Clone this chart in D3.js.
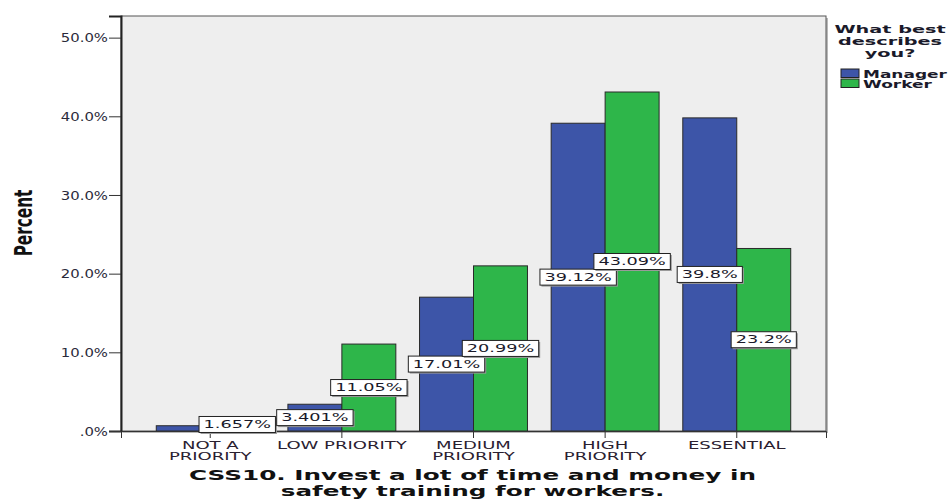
<!DOCTYPE html>
<html>
<head>
<meta charset="utf-8">
<script src="https://cdn.jsdelivr.net/npm/d3@7"></script>
<style>
  html, body { margin: 0; padding: 0; background: #fff; }
  svg { display: block; }
</style>
</head>
<body>
<svg id="chart" width="948" height="500"></svg>
<script>
// ---- data ----
const categories = ["NOT A PRIORITY", "LOW PRIORITY", "MEDIUM PRIORITY", "HIGH PRIORITY", "ESSENTIAL"];
const categoryLines = [["NOT A", "PRIORITY"], ["LOW PRIORITY"], ["MEDIUM", "PRIORITY"], ["HIGH", "PRIORITY"], ["ESSENTIAL"]];
const seriesNames = ["Manager", "Worker"];
const managerValues = [0.669, 3.401, 17.01, 39.12, 39.8];
const workerValues = [1.657, 11.05, 20.99, 43.09, 23.2];
const yTickValues = [0, 10, 20, 30, 40, 50];
const yTickLabels = [".0%", "10.0%", "20.0%", "30.0%", "40.0%", "50.0%"];
const legendTitleLines = ["What best", "describes", "you?"];
const titleLines = ["CSS10. Invest a lot of time and money in", "safety training for workers."];
const yAxisTitle = "Percent";
const colors = ["#3d55a8", "#2eb64a"];

// ---- layout ----
const svg = d3.select("#chart");
const plot = { left: 121, right: 826, top: 16, bottom: 431 };
const SX = 1.7;

const x0 = d3.scaleBand().domain(categories)
  .range([plot.left, plot.right]).paddingInner(0.18).paddingOuter(0.268);
const x1 = d3.scaleBand().domain(seriesNames).range([0, x0.bandwidth()]).padding(0);
const y = d3.scaleLinear().domain([0, 52.75]).range([plot.bottom, plot.top]);

// plot background with shadow
svg.append("rect").attr("x", plot.left + 2).attr("y", plot.top + 2)
  .attr("width", plot.right - plot.left).attr("height", plot.bottom - plot.top)
  .attr("fill", "#b8b8b8");
svg.append("rect").attr("x", plot.left).attr("y", plot.top)
  .attr("width", plot.right - plot.left).attr("height", plot.bottom - plot.top)
  .attr("fill", "#eeeeee").attr("stroke", "#555").attr("stroke-width", 1);

const rows = categories.map((c, i) => ({ cat: c, vals: [managerValues[i], workerValues[i]] }));

// bars
const groups = svg.append("g").selectAll("g").data(rows).join("g")
  .attr("transform", d => `translate(${x0(d.cat)},0)`);
groups.selectAll("rect").data(d => d.vals.map((v, k) => ({ v, s: seriesNames[k], k })))
  .join("rect")
  .attr("x", d => x1(d.s))
  .attr("y", d => y(d.v))
  .attr("width", x1.bandwidth())
  .attr("height", d => y(0) - y(d.v))
  .attr("fill", d => colors[d.k])
  .attr("stroke", "#2a2a2a").attr("stroke-width", 1);

// axes
const yAxis = d3.axisLeft(y).tickValues(yTickValues)
  .tickFormat((d, i) => yTickLabels[i]).tickSize(12).tickPadding(1);
const gy = svg.append("g").attr("transform", `translate(${plot.left},0)`).call(yAxis);
gy.select(".domain").attr("stroke", "#222").attr("stroke-width", 2);
gy.selectAll(".tick line").attr("stroke", "#333").attr("stroke-width", 1);
gy.selectAll(".tick text")
  .attr("font-family", "DejaVu Sans, sans-serif").attr("font-size", 12)
  .attr("fill", "#2a2a3a").attr("x", null).attr("dy", "0.35em")
  .attr("text-anchor", "end")
  .attr("transform", "translate(-13,0) scale(1.24,1)");

const xAxis = d3.axisBottom(x0).tickSize(7).tickFormat("");
const gx = svg.append("g").attr("transform", `translate(0,${plot.bottom})`).call(xAxis);
gx.select(".domain").attr("stroke", "#333").attr("stroke-width", 1);
gx.selectAll(".tick line").attr("stroke", "#333");

// category labels
svg.append("g").selectAll("text").data(categories).join("text")
  .attr("font-family", "DejaVu Sans, sans-serif").attr("font-size", 10.6)
  .attr("fill", "#2a2030").attr("text-anchor", "middle")
  .attr("transform", d => `translate(${x0(d) + x0.bandwidth() / 2},449) scale(${SX},1)`)
  .each(function (d, i) {
    d3.select(this).selectAll("tspan").data(categoryLines[i]).join("tspan")
      .attr("x", 0).attr("y", (t, j) => j * 11).text(t => t);
  });

// data labels
const labelFmt = d3.format(".4~r");
const labels = [];
rows.forEach(r => r.vals.forEach((v, k) => {
  if (v >= 1) labels.push({ cat: r.cat, s: seriesNames[k], v });
}));
const lg = svg.append("g").selectAll("g").data(labels).join("g")
  .attr("transform", d => `translate(${x0(d.cat) + x1(d.s) + x1.bandwidth() / 2},${(y(d.v) + y(0)) / 2})`);
lg.append("text")
  .attr("font-family", "DejaVu Sans, sans-serif").attr("font-size", 10.4)
  .attr("fill", "#1a1a2a").attr("text-anchor", "middle").attr("dy", "0.36em")
  .attr("transform", `scale(${SX},1)`)
  .text(d => labelFmt(d.v) + "%");
lg.each(function () {
  const g = d3.select(this);
  const t = g.select("text").node().getBBox();
  const w = t.width * SX + 9, h = 16;
  g.insert("rect", "text").attr("x", -w / 2 + 1.5).attr("y", -h / 2 + 1.5)
    .attr("width", w).attr("height", h).attr("fill", "#9a9a9a");
  g.insert("rect", "text").attr("x", -w / 2).attr("y", -h / 2)
    .attr("width", w).attr("height", h).attr("fill", "#fff")
    .attr("stroke", "#222").attr("stroke-width", 1);
});

// y axis title
svg.append("text").text(yAxisTitle)
  .attr("font-family", "'Liberation Sans Narrow', 'DejaVu Sans Condensed', sans-serif")
  .attr("font-weight", "bold").attr("font-size", 17).attr("fill", "#111")
  .attr("text-anchor", "middle")
  .attr("transform", "translate(32,223) scale(1.45,1) rotate(-90)");

// chart title (two lines)
svg.append("g").selectAll("text").data(titleLines).join("text")
  .attr("font-family", "DejaVu Sans, sans-serif").attr("font-weight", "bold")
  .attr("font-size", 13.8).attr("fill", "#111").attr("text-anchor", "middle")
  .attr("transform", (d, i) => `translate(472.5,${480 + i * 16}) scale(1.79,1)`)
  .text(d => d);

// legend
svg.append("text")
  .attr("font-family", "DejaVu Sans, sans-serif").attr("font-weight", "bold")
  .attr("font-size", 11).attr("fill", "#1a1a2a").attr("text-anchor", "middle")
  .attr("transform", "translate(890,33) scale(1.75,1)")
  .selectAll("tspan").data(legendTitleLines).join("tspan")
  .attr("x", 0).attr("y", (d, i) => i * 12).text(d => d);

const leg = svg.append("g").selectAll("g").data(seriesNames).join("g")
  .attr("transform", (d, i) => `translate(841,${69 + i * 10})`);
leg.append("rect").attr("width", 18).attr("height", 8.5)
  .attr("fill", (d, i) => colors[i]).attr("stroke", "#222").attr("stroke-width", 1);
leg.append("text")
  .attr("font-family", "DejaVu Sans, sans-serif").attr("font-weight", "bold")
  .attr("font-size", 10).attr("fill", "#1a1a2a")
  .attr("transform", `translate(22,8.5) scale(${SX},1)`)
  .text(d => d);
</script>
</body>
</html>
